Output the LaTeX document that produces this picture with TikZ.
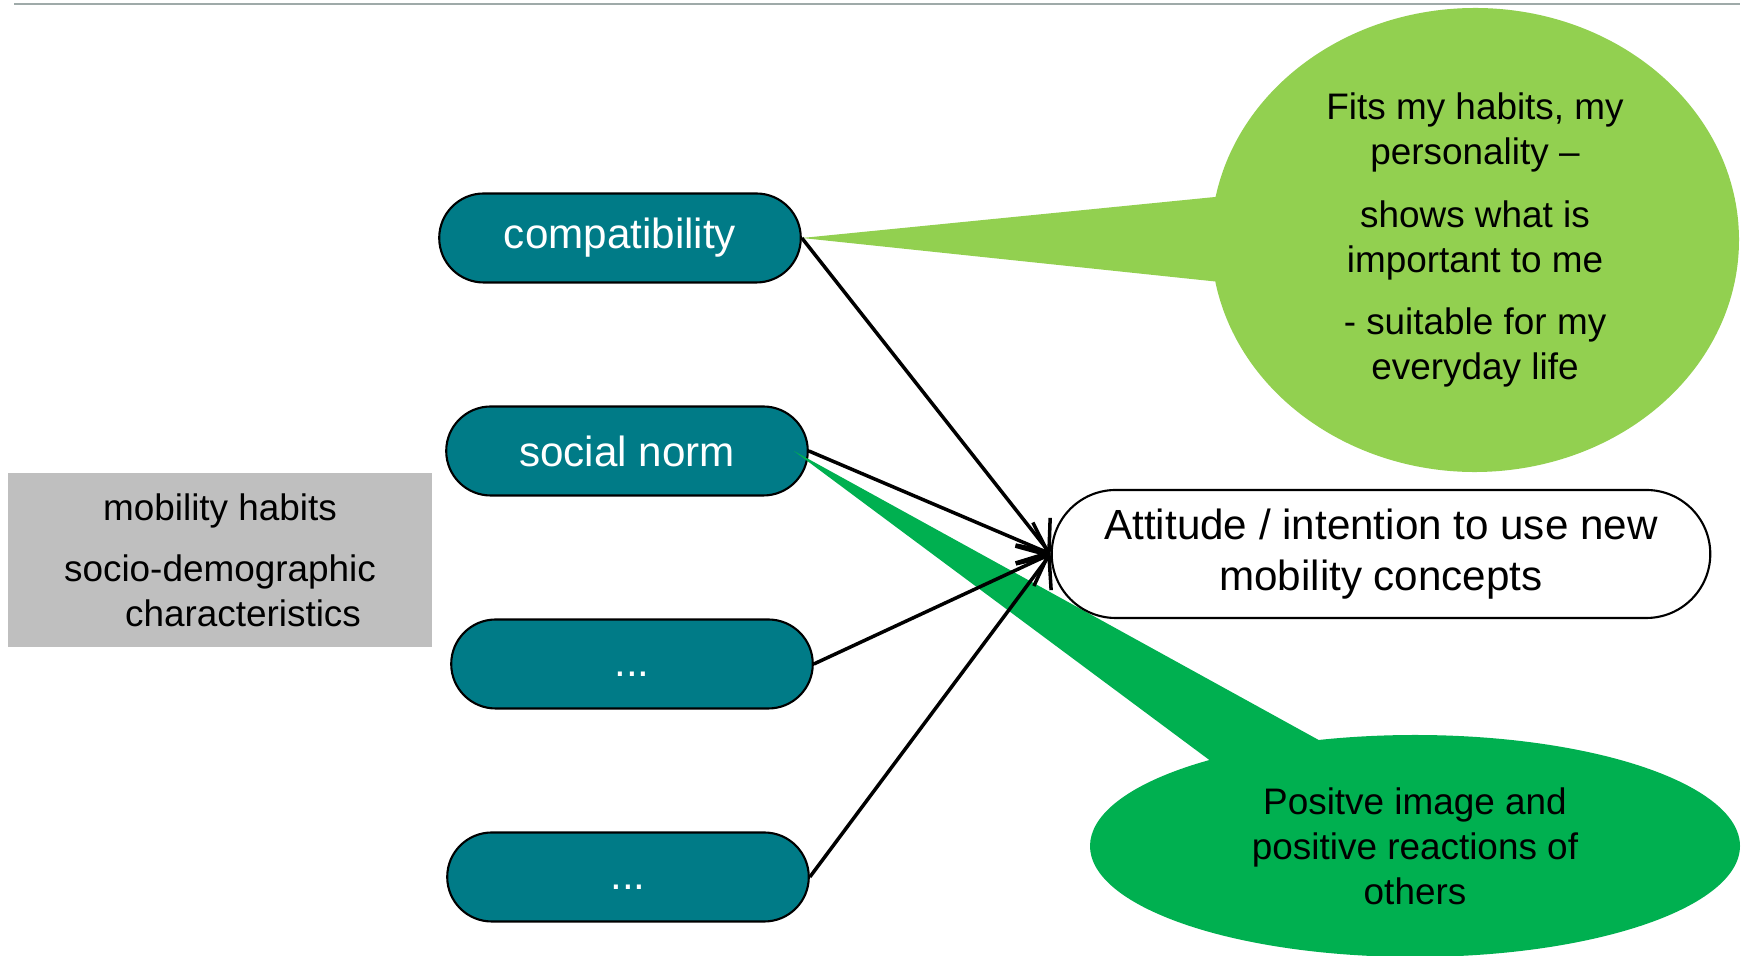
\documentclass[tikz,border=0pt]{standalone}
\usepackage{fontspec}
\setmainfont{Liberation Sans}
\usepackage{tikz}
\usetikzlibrary{positioning}
\usetikzlibrary{shapes.misc,shapes.callouts}
\usetikzlibrary{arrows.meta}
\definecolor{factorteal}{HTML}{007B87}
\definecolor{lightleaf}{HTML}{92D050}
\definecolor{darkleaf}{HTML}{00B050}
\definecolor{boxgray}{HTML}{BFBFBF}
\definecolor{rulegray}{HTML}{9FAAA9}
\tikzset{	node distance=2.13cm,
	factor/.style={
		rounded rectangle,
		draw=black, line width=0.6pt,
		fill=factorteal, text=white,
		minimum width=3.85cm, minimum height=0.89cm,
		font=\fontsize{12}{14.5}\selectfont},
	bubble/.style={
		ellipse callout,
		callout pointer arc=21,
		inner sep=0pt, align=center,
		font=\fontsize{10.5}{12.8}\selectfont},
	every edge/.style={
		draw,
		line width=1pt,
		-{Straight Barb[length=2.6mm,width=4.4mm]}}
}

\begin{document}
\begin{tikzpicture}
			\useasboundingbox (0,0) rectangle (17.46,9.56);
			\draw[rulegray, line width=0.7pt] (0.14,9.52) -- (17.40,9.52);
			% factors on the left
			\node[factor] (comp) at (6.20,7.18) {compatibility};
			\node[factor, below of=comp, xshift=0.07cm] (norm) {social norm};
			\node[factor, below of=norm, xshift=0.05cm] (more) {\raisebox{-2.6mm}{...}};
			\node[factor, below of=more, xshift=-0.04cm] (rest) {\raisebox{-2.6mm}{...}};
			% speech bubbles
			\node[bubble, fill=lightleaf, minimum width=5.28cm, minimum height=4.64cm,
				callout absolute pointer={(comp.east)}] (fits) at (14.75,7.16)
				{Fits my habits, my\\ personality –\\[5pt] shows what is\\ important to me\\[5pt] - suitable for my\\ everyday life};
			\node[bubble, fill=darkleaf, minimum width=6.50cm, minimum height=2.22cm, callout pointer arc=22,
				callout absolute pointer={([xshift=-0.15cm]norm.east)}] (image) at (14.15,1.10)
				{Positve image and\\ positive reactions of\\ others};
			\node[rounded rectangle, draw=black, line width=0.6pt, fill=white,
				minimum width=6.82cm, minimum height=1.28cm, align=center,
				font=\fontsize{12}{14.5}\selectfont] (att) at (13.81,4.02)
				{Attitude / intention to use new\\ mobility concepts};
			\node[fill=boxgray, minimum width=4.24cm, minimum height=1.74cm, align=center,
				font=\fontsize{10.5}{12.8}\selectfont] (traits) at (2.20,3.96)
				{mobility habits\\[4.6pt] socio-demographic\\ \hspace*{4.6mm}characteristics};
			\draw (comp.east) edge (att.west);
			\draw (norm.east) edge (att.west);
			\draw (more.east) edge (att.west);
			\draw (rest.east) edge (att.west);
		\end{tikzpicture}
\end{document}
